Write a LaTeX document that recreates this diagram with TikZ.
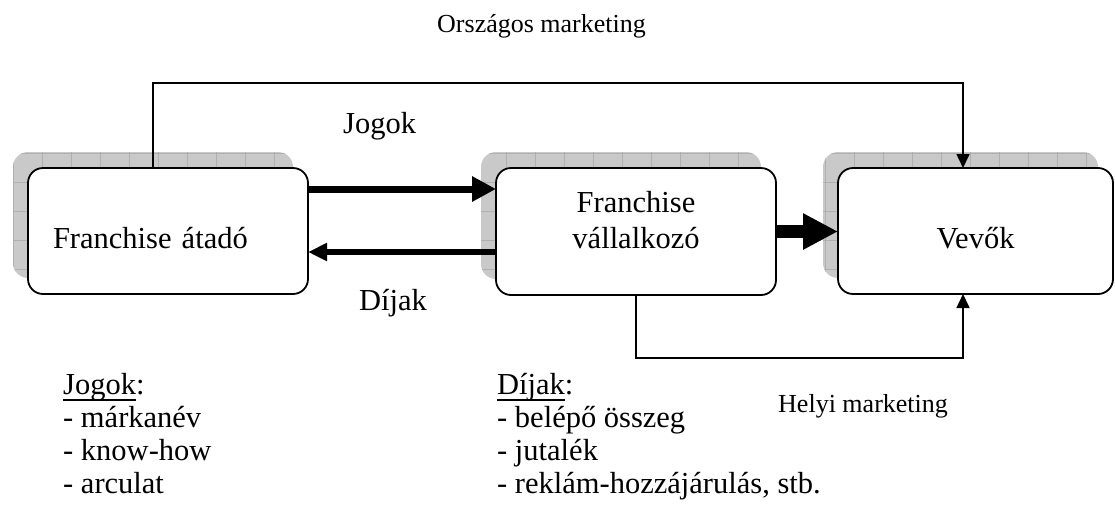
\documentclass[tikz,border=0pt]{standalone}
\usepackage{fontspec}
\setmainfont{Liberation Serif}
\usetikzlibrary{arrows.meta,calc,backgrounds}

\newcommand\bigtext{\fontsize{30.5}{36}\selectfont}
\newcommand\smalltext{\fontsize{26}{30}\selectfont}
\newcommand\listtext{\fontsize{30.5}{32.7}\selectfont}
% underline that sits close to the baseline and crosses descenders
\newcommand\ulword[1]{\setbox0\hbox{#1}\rlap{\rule[-6pt]{\wd0}{1.6pt}}\box0}

\tikzset{
  box/.style={draw, line width=1.8pt, rounded corners=15pt, fill=white,
    anchor=north west, inner sep=0pt, outer sep=0pt, font=\bigtext},
  shadowfill/.style={fill=gray!42},
  shadowgrid/.style={draw=gray!62, line width=0.6pt},
  flowthin/.style={line width=1.6pt, -{Triangle[length=14pt,width=13pt]}},
  label/.style={inner sep=0pt, anchor=base west},
  listnode/.style={inner sep=0pt, anchor=base west, align=left, font=\listtext},
}

\begin{document}
\begin{tikzpicture}[x=1pt, y=-1pt]
  \useasboundingbox (0,0) rectangle (1115,509);

  % the three parties
  \node[box, minimum width=280pt, minimum height=126pt, text width=230pt,
        align=left, text height=34pt, text depth=0pt] (b1) at (28,168)
        {Franchise átadó};
  \node[box, minimum width=280pt, minimum height=127pt, align=center,
        text height=60pt, text depth=27pt] (b2) at (496,168)
        {Franchise\\vállalkozó};
  \node[box, minimum width=275pt, minimum height=126pt,
        text height=34pt, text depth=0pt] (b3) at (838,168)
        {Vevők};

  % shaded backdrop behind each box, with a faint grid
  \begin{scope}[on background layer]
    \foreach \b in {b1,b2,b3} {
      \begin{scope}
        \path[clip, rounded corners=15pt]
          ($(\b.north west)+(-15,-16)$) rectangle ($(\b.south east)+(-15,-16)$);
        \path[shadowfill] (0,140) rectangle (1115,300);
        \foreach \gx in {13,42,...,1115} \draw[shadowgrid] (\gx,140) -- (\gx,300);
        \foreach \gy in {153,182,211,240,269} \draw[shadowgrid] (0,\gy) -- (1115,\gy);
      \end{scope}
    }
  \end{scope}

  % rights and fees between franchisor and franchisee
  \draw[line width=7pt, -{Triangle[length=24pt,width=24pt]}]
    ($(b1.north east)+(0,21)$) -- ($(b2.north west)+(0,21)$);
  \draw[line width=5.5pt, -{Triangle[length=19pt,width=17pt]}]
    ($(b2.north west)+(0,84)$) -- ($(b1.north east)+(0,84)$);

  % franchisee serves the customers
  \draw[line width=13pt, -{Triangle[length=35pt,width=34pt]}]
    (b2.east) -- (b2.east -| b3.west);

  % national marketing
  \coordinate (t1) at (153,83);
  \coordinate (t2) at (963,83);
  \draw[flowthin] (t1 |- b1.north) -- (t1) -- (t2) -- (t2 |- b3.north);

  % local marketing
  \coordinate (u1) at (636,358);
  \coordinate (u2) at (963,358);
  \draw[flowthin] (u1 |- b2.south) -- (u1) -- (u2) -- (u2 |- b3.south);

  % labels
  \node[label, font=\smalltext] (lnat) at (437,32) {Országos marketing};
  \node[label, font=\bigtext] (lrights) at (343,133) {Jogok};
  \node[label, font=\bigtext] (lfees) at (359,310) {Díjak};
  \node[label, font=\smalltext] (lloc) at (778,412) {Helyi marketing};

  % lists (anchored at the baseline of their last line)
  \node[listnode] (jlist) at (63,493)
    {\ulword{Jogok}:\\- márkanév\\- know-how\\- arculat};
  \node[listnode] (dlist) at (497,493)
    {\ulword{Díjak}:\\- belépő összeg\\- jutalék\\- reklám-hozzájárulás, stb.};
\end{tikzpicture}
\end{document}
